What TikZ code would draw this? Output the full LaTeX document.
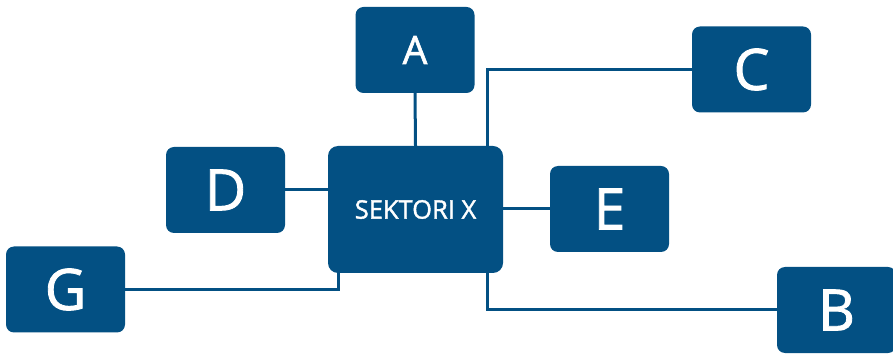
\documentclass[tikz,border=0pt]{standalone}
\usepackage{fontspec}
\setmainfont{Open Sans}
\newfontfamily\semib{Open Sans}[FakeBold=1.5]
\definecolor{navy}{RGB}{3,80,131}
\begin{document}
\begin{tikzpicture}[x=1pt,y=1pt,
  box/.style={fill=navy, draw=none, rounded corners=8pt, minimum width=119pt, minimum height=86pt, inner sep=0pt, text=white, font=\semib\fontsize{57}{60}\selectfont},
  smallbox/.style={box, font=\semib\fontsize{39}{40}\selectfont},
  center/.style={fill=navy, draw=none, rounded corners=10pt, minimum width=175pt, minimum height=127pt, inner sep=0pt, text=white, font=\semib\fontsize{25.5}{28}\selectfont},
  link/.style={draw=navy, line width=3pt}]
\useasboundingbox (0,0) rectangle (893,353);
\begin{scope}
\clip (0,0) rectangle (893,353);
\node[center] (X) at (415.5,143.5) {SEKTORI X\hspace{7pt}};
\node[smallbox] (A) at (415,303) {A};
\node[box] (C) at (751.5,283.5) {C};
\node[box] (D) at (225.5,163) {D};
\node[box] (E) at (609.5,144) {E};
\node[box] (G) at (65.5,63.5) {G};
\node[box] (B) at (836.5,43) {B};
\coordinate (xr) at (487,0);
\coordinate (xl) at (338,0);
\draw[link] (A.south) -- (X.north);
\draw[link] (C.west) -| (X.north -| xr);
\draw[link] (D.east) -- (D.east -| X.west);
\draw[link] (X.east |- E.west) -- (E.west);
\draw[link] (G.east) -| (X.south -| xl);
\draw[link] (X.south -| xr) |- (B.west);
\end{scope}
\end{tikzpicture}
\end{document}
